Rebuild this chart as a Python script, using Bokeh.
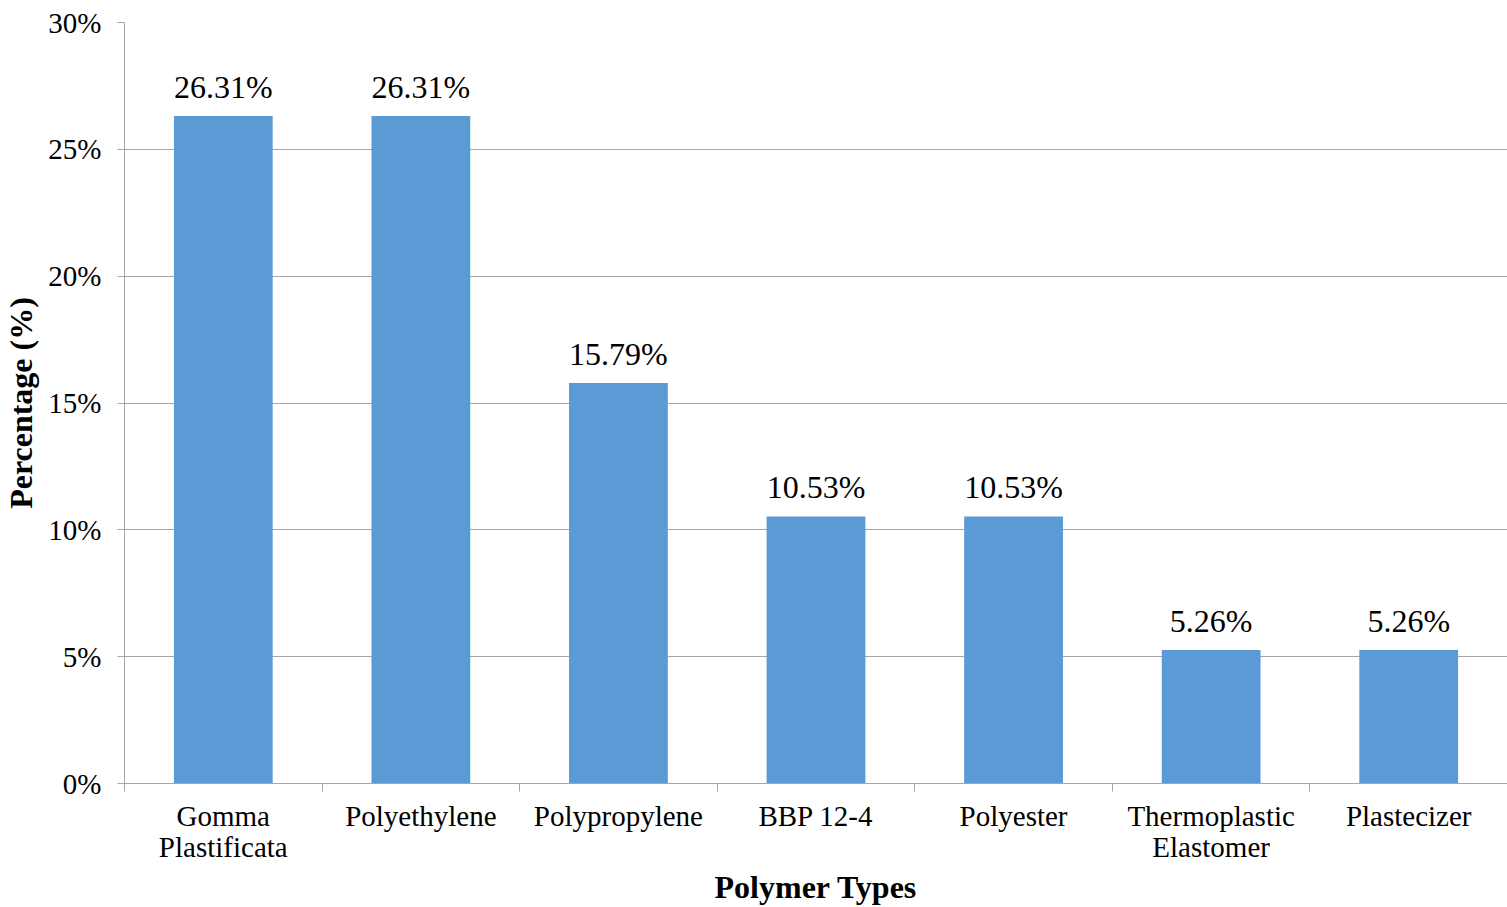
from bokeh.plotting import figure
from bokeh.models import ColumnDataSource, FixedTicker, Range1d, PrintfTickFormatter
from bokeh.embed import file_html
from bokeh.resources import INLINE
from bokeh.core.properties import value

# Share of each polymer type (%)
categories = ["Gomma\nPlastificata", "Polyethylene", "Polypropylene", "BBP 12-4",
              "Polyester", "Thermoplastic\nElastomer", "Plastecizer"]
percentages = [26.31, 26.31, 15.79, 10.53, 10.53, 5.26, 5.26]
y_ticks = [0, 5, 10, 15, 20, 25, 30]

FONT = "Liberation Serif"
GRID = "#a6a6a6"
BAR = "#5b9bd5"

n = len(categories)
centers = [i + 0.5 for i in range(n)]
source = ColumnDataSource(dict(
    x=centers,
    top=percentages,
    label=[f"{v:.2f}%" for v in percentages],
))

p = figure(width=1507, height=907, output_backend="svg", toolbar_location=None,
           x_range=Range1d(0, n), y_range=Range1d(0, 30),
           min_border_left=124, min_border_right=0, min_border_top=22,
           min_border_bottom=124)
p.outline_line_color = None
p.background_fill_color = "white"
p.border_fill_color = "white"

p.vbar(x="x", top="top", width=0.5, bottom=0, source=source,
       fill_color=BAR, line_color=None)

p.text(x="x", y="top", text="label", source=source,
       text_font=value(FONT), text_font_size="32px", text_color="black",
       text_align="center", text_baseline="bottom", y_offset=-11)

# x axis: names at bar centres, tick marks between categories
xa = p.xaxis[0]
xa.ticker = FixedTicker(ticks=centers, minor_ticks=list(range(n + 1)))
xa.major_label_overrides = {c: lab for c, lab in zip(centers, categories)}
xa.major_tick_out = 0
xa.major_tick_in = 0
xa.minor_tick_out = 8
xa.minor_tick_in = 0
xa.minor_tick_line_color = GRID
xa.axis_line_color = GRID
xa.major_label_text_font = FONT
xa.major_label_text_font_size = "29px"
xa.major_label_text_line_height = 0.97
xa.major_label_text_color = "black"
xa.major_label_standoff = 8
xa.axis_label = "Polymer Types"
xa.axis_label_text_font = FONT
xa.axis_label_text_font_size = "32px"
xa.axis_label_text_font_style = "bold"
xa.axis_label_text_color = "black"
xa.axis_label_standoff = 3

ya = p.yaxis[0]
ya.ticker = FixedTicker(ticks=y_ticks)
ya.formatter = PrintfTickFormatter(format="%d%%")
ya.major_tick_out = 7
ya.major_tick_in = 0
ya.minor_tick_out = 0
ya.minor_tick_in = 0
ya.major_tick_line_color = GRID
ya.axis_line_color = GRID
ya.major_label_text_font = FONT
ya.major_label_text_font_size = "29px"
ya.major_label_text_color = "black"
ya.major_label_standoff = 16
ya.axis_label = "Percentage (%)"
ya.axis_label_text_font = FONT
ya.axis_label_text_font_size = "32px"
ya.axis_label_text_font_style = "bold"
ya.axis_label_text_color = "black"
ya.axis_label_standoff = 6

p.xgrid.grid_line_color = None
p.ygrid.grid_line_color = GRID
p.ygrid.grid_line_width = 1

open("out.html", "w").write(file_html(p, INLINE))
